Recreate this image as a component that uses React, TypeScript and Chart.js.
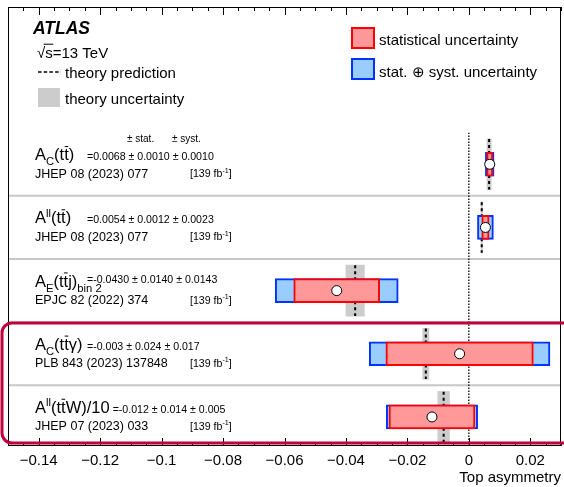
import React, { useEffect, useRef } from 'react';
import { Chart, registerables } from 'chart.js';

Chart.register(...registerables);

const FONT = '"Liberation Sans", Arial, Helvetica, sans-serif';

// ---------------- data ----------------
const ROW_NAMES = [
  'A_{C}(t#bar{t})',
  'A^{ll}(t#bar{t})',
  'A_{E}(t#bar{t}j)_{bin 2}',
  'A_{C}(t#bar{t}γ)',
  'A^{ll}(t#bar{t}W)/10',
];
const REFERENCES = [
  'JHEP 08 (2023) 077',
  'JHEP 08 (2023) 077',
  'EPJC 82 (2022) 374',
  'PLB 843 (2023) 137848',
  'JHEP 07 (2023) 033',
];
const LUMINOSITY = [139, 139, 139, 139, 139];
const CENTRAL = [0.0068, 0.0054, -0.043, -0.003, -0.012];
const STAT = [0.001, 0.0012, 0.014, 0.024, 0.014];
const SYST = [0.001, 0.0023, 0.0143, 0.017, 0.005];
const DECIMALS = [4, 4, 4, 3, 3];
const THEORY = [0.0066, 0.0042, -0.037, -0.014, -0.0082];
const THEORY_ERR = [0.0007, 0.0002, 0.003, 0.001, 0.0019];

const X_MIN = -0.15;
const X_MAX = 0.03;
const MAJOR_STEP = 0.02;
const MINOR_STEP = 0.005;
const X_TITLE = 'Top asymmetry';
const EXPERIMENT = 'ATLAS';
const ENERGY = '#sqrt{s}=13 TeV';
const LEGEND_LEFT = ['theory prediction', 'theory uncertainty'];
const LEGEND_RIGHT = ['statistical uncertainty', 'stat. ⊕ syst. uncertainty'];
const UNC_HEADERS = ['± stat.', '± syst.'];

const COLORS = {
  statFill: '#ff9999',
  statLine: '#ff0000',
  totFill: '#99ccff',
  totLine: '#0033ff',
  theory: '#cccccc',
  sep: '#c8c8c8',
  highlight: '#c0003c',
};

// ---------------- helpers ----------------
type Seg = { text: string; kind: 'n' | 'sub' | 'sup' | 'bar' | 'sqrt' };

function parseTex(s: string): Seg[] {
  const re = /(_\{[^}]*\}|\^\{[^}]*\}|#bar\{[^}]*\}|#sqrt\{[^}]*\}|[^_^#]+)/g;
  const out: Seg[] = [];
  let m: RegExpExecArray | null;
  while ((m = re.exec(s))) {
    const tok = m[0];
    if (tok.startsWith('_{')) out.push({ text: tok.slice(2, -1), kind: 'sub' });
    else if (tok.startsWith('^{')) out.push({ text: tok.slice(2, -1), kind: 'sup' });
    else if (tok.startsWith('#bar{')) out.push({ text: tok.slice(5, -1), kind: 'bar' });
    else if (tok.startsWith('#sqrt{')) out.push({ text: tok.slice(6, -1), kind: 'sqrt' });
    else out.push({ text: tok, kind: 'n' });
  }
  return out;
}

function drawTex(ctx: CanvasRenderingContext2D, s: string, x: number, baseline: number, size: number, weight = '') {
  const segs = parseTex(s);
  let cx = x;
  let mainEnd = x;
  let trailingSub = false;
  for (const seg of segs) {
    let sz = size;
    let dy = 0;
    if (seg.kind === 'sub') { sz = size * 0.68; dy = size * 0.3; }
    if (seg.kind === 'sup') { sz = size * 0.68; dy = -size * 0.42; }
    ctx.font = `${weight} ${sz}px ${FONT}`;
    if (seg.kind === 'sqrt') {
      const w0 = ctx.measureText('√').width;
      const w = ctx.measureText(seg.text).width;
      ctx.fillText('√', cx, baseline);
      ctx.fillText(seg.text, cx + w0, baseline);
      ctx.fillRect(cx + w0 * 0.8, baseline - size * 0.92, w + w0 * 0.2 + 0.5, Math.max(1, size * 0.06));
      cx += w0 + w;
    } else {
      ctx.fillText(seg.text, cx, baseline + dy);
      const w = ctx.measureText(seg.text).width;
      if (seg.kind === 'bar') ctx.fillRect(cx + 0.5, baseline - size * 0.86, w - 1, Math.max(1, size * 0.06));
      cx += w;
    }
    if (seg.kind !== 'sub' && seg.kind !== 'sup') { mainEnd = cx; trailingSub = false; }
    else if (seg.kind === 'sub') trailingSub = true;
  }
  return { end: cx, mainEnd, trailingSub };
}

function isMajor(v: number) {
  return Math.abs(Math.round(v / MAJOR_STEP) * MAJOR_STEP - v) < 1e-9;
}

function fmtTick(v: number) {
  if (!isMajor(v)) return '';
  const r = Number(v.toFixed(4));
  return String(r).replace('-', '\u2212');
}

const N = CENTRAL.length;
const ROW_Y = CENTRAL.map((_, i) => N - i - 0.5);
const TOTAL = STAT.map((s, i) => Math.hypot(s, SYST[i]));
const Y_MIN = 0.04;
const Y_MAX = 6.99;

const overlayPlugin = {
  id: 'overlay',
  afterDraw(chart: any) {
    const ctx: CanvasRenderingContext2D = chart.ctx;
    const xs = chart.scales.x;
    const ys = chart.scales.y;
    const { left, right, top, bottom } = chart.chartArea;
    ctx.save();

    // ticks (inward, top and bottom)
    ctx.strokeStyle = '#000';
    ctx.lineWidth = 1;
    ctx.beginPath();
    for (const t of xs.ticks) {
      const px = Math.round(xs.getPixelForValue(t.value)) + 0.5;
      const len = isMajor(t.value) ? 8 : 4;
      ctx.moveTo(px, bottom);
      ctx.lineTo(px, bottom - len);
      ctx.moveTo(px, top);
      ctx.lineTo(px, top + len);
    }
    ctx.stroke();
    // frame
    ctx.strokeRect(left + 0.5, top + 0.5, right - left - 1, bottom - top - 1);

    ctx.fillStyle = '#000';
    ctx.textBaseline = 'alphabetic';
    ctx.textAlign = 'left';

    // top-left legend
    ctx.font = `italic bold 17.5px ${FONT}`;
    ctx.fillText(EXPERIMENT, 33, 33.5);
    drawTex(ctx, ENERGY, 37, 57.5, 15);
    ctx.save();
    ctx.setLineDash([3.5, 2.2]);
    ctx.lineWidth = 1.6;
    ctx.beginPath();
    ctx.moveTo(38, 72);
    ctx.lineTo(61, 72);
    ctx.stroke();
    ctx.restore();
    ctx.font = `15px ${FONT}`;
    ctx.fillText(LEGEND_LEFT[0], 65, 77.5);
    ctx.fillStyle = COLORS.theory;
    ctx.fillRect(38, 88, 22, 19);
    ctx.fillStyle = '#000';
    ctx.fillText(LEGEND_LEFT[1], 65, 103.5);

    // top-right legend
    ctx.lineWidth = 2;
    ctx.fillStyle = COLORS.statFill;
    ctx.fillRect(351, 27, 24, 22);
    ctx.strokeStyle = COLORS.statLine;
    ctx.strokeRect(352, 28, 22, 20);
    ctx.fillStyle = COLORS.totFill;
    ctx.fillRect(351, 58, 24, 22);
    ctx.strokeStyle = COLORS.totLine;
    ctx.strokeRect(352, 59, 22, 20);
    ctx.fillStyle = '#000';
    ctx.font = `15px ${FONT}`;
    ctx.fillText(LEGEND_RIGHT[0], 379, 44.5);
    ctx.fillText(LEGEND_RIGHT[1], 379, 76.5);

    // rows text
    for (let i = 0; i < N; i++) {
      const cy = ys.getPixelForValue(ROW_Y[i]);
      ctx.fillStyle = '#000';
      const res = drawTex(ctx, ROW_NAMES[i], 35, cy - 4, 16.5);
      const vx = Math.max(87, res.mainEnd + 3);
      const d = DECIMALS[i];
      const val = `=${CENTRAL[i].toFixed(d)} ± ${STAT[i].toFixed(d)} ± ${SYST[i].toFixed(d)}`;
      ctx.font = `10.6px ${FONT}`;
      ctx.fillText(val, vx, cy - 4 - (res.trailingSub ? 4 : 0));
      if (i === 0) {
        ctx.font = `10px ${FONT}`;
        ctx.fillText(UNC_HEADERS[0], 127, cy - 22.5);
        ctx.fillText(UNC_HEADERS[1], 172, cy - 22.5);
      }
      ctx.font = `12.5px ${FONT}`;
      ctx.fillText(REFERENCES[i], 35, cy + 13.5);
      drawTex(ctx, `[${LUMINOSITY[i]} fb^{-1}]`, 190, cy + 13, 10.6);
    }

    // highlight box
    ctx.strokeStyle = COLORS.highlight;
    ctx.lineWidth = 3;
    ctx.beginPath();
    (ctx as any).roundRect(2, 323, 700, 120, 10);
    ctx.stroke();

    ctx.restore();
  },
};

export default function App() {
  const ref = useRef<HTMLCanvasElement | null>(null);

  useEffect(() => {
    if (!ref.current) return;
    const theoryLines = THEORY.map((t, i) => ({
      type: 'line' as const,
      data: [{ x: t, y: ROW_Y[i] + 0.4 }, { x: t, y: ROW_Y[i] - 0.4 }],
      borderColor: '#000',
      borderWidth: 2,
      borderDash: [3, 3],
      pointRadius: 0,
      order: 3,
    }));
    const separators = [1, 2, 3, 4].map((yv) => ({
      type: 'line' as const,
      data: [{ x: X_MIN, y: yv }, { x: X_MAX, y: yv }],
      borderColor: COLORS.sep,
      borderWidth: 2,
      pointRadius: 0,
      order: 6,
    }));
    const chart = new Chart(ref.current, {
      type: 'bar',
      data: {
        datasets: [
          {
            type: 'scatter',
            data: CENTRAL.map((c, i) => ({ x: c, y: ROW_Y[i] })),
            pointRadius: 5,
            pointBackgroundColor: '#ffffff',
            pointBorderColor: '#000000',
            pointBorderWidth: 1,
            order: 0,
          },
          {
            type: 'bar',
            indexAxis: 'y',
            grouped: false,
            data: CENTRAL.map((c, i) => ({ x: [c - STAT[i], c + STAT[i]], y: ROW_Y[i] })),
            backgroundColor: COLORS.statFill,
            borderColor: COLORS.statLine,
            borderWidth: 2,
            borderSkipped: false,
            barThickness: 24,
            order: 1,
          },
          {
            type: 'bar',
            indexAxis: 'y',
            grouped: false,
            data: CENTRAL.map((c, i) => ({ x: [c - TOTAL[i], c + TOTAL[i]], y: ROW_Y[i] })),
            backgroundColor: COLORS.totFill,
            borderColor: COLORS.totLine,
            borderWidth: 2,
            borderSkipped: false,
            barThickness: 24,
            order: 2,
          },
          ...theoryLines,
          {
            type: 'bar',
            indexAxis: 'y',
            grouped: false,
            data: THEORY.map((t, i) => ({ x: [t - THEORY_ERR[i], t + THEORY_ERR[i]], y: ROW_Y[i] })),
            backgroundColor: COLORS.theory,
            borderWidth: 0,
            barThickness: 51,
            order: 4,
          },
          {
            type: 'line',
            data: [{ x: 0, y: Y_MIN }, { x: 0, y: 5 }],
            borderColor: '#000',
            borderWidth: 1.3,
            borderDash: [1.5, 1.5],
            pointRadius: 0,
            order: 5,
          },
          ...separators,
        ] as any,
      },
      options: {
        animation: false,
        responsive: false,
        events: [],
        layout: { autoPadding: false, padding: { left: 8, right: 3, top: 7, bottom: 0 } },
        plugins: { legend: { display: false }, tooltip: { enabled: false } },
        scales: {
          x: {
            type: 'linear',
            min: X_MIN,
            max: X_MAX,
            offset: false,
            border: { display: false },
            grid: { display: false, drawTicks: false },
            ticks: {
              stepSize: MINOR_STEP,
              autoSkip: false,
              maxRotation: 0,
              padding: 6,
              color: '#000',
              font: { family: FONT, size: 15 },
              callback: (v: any) => fmtTick(Number(v)),
            },
            title: {
              display: true,
              text: X_TITLE,
              align: 'end',
              color: '#000',
              font: { family: FONT, size: 15 },
              padding: { top: 0, bottom: 0 },
            },
            afterFit: (s: any) => {
              s.height = 41;
              s.paddingLeft = 0;
              s.paddingRight = 0;
            },
          },
          y: {
            type: 'linear',
            min: Y_MIN,
            max: Y_MAX,
            offset: false,
            display: false,
          },
        },
      } as any,
      plugins: [overlayPlugin],
    });
    return () => chart.destroy();
  }, []);

  return (
    <div style={{ position: 'absolute', left: 0, top: 0, width: 564, height: 487, background: '#fff' }}>
      <canvas ref={ref} width={564} height={487} style={{ display: 'block' }} />
    </div>
  );
}
